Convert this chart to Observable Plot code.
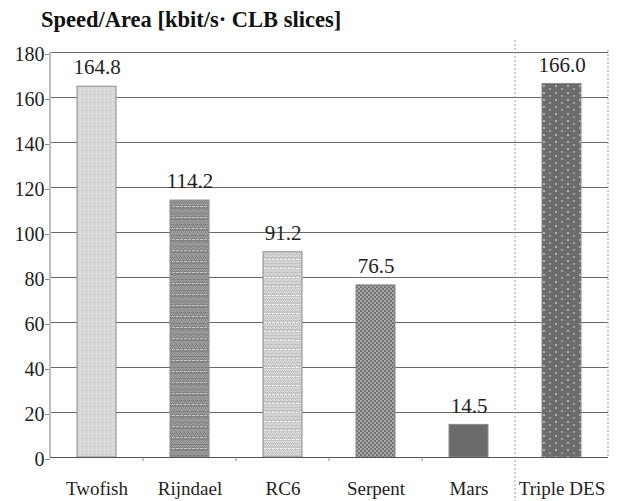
<!DOCTYPE html>
<html>
<head>
<meta charset="utf-8">
<script src="https://cdn.jsdelivr.net/npm/d3@7"></script>
<script src="https://cdn.jsdelivr.net/npm/@observablehq/plot@0.6"></script>
<style>
  html, body { margin: 0; padding: 0; background: #fff; }
  #chart svg { display: block; }
  #chart svg text { font-family: "Liberation Serif", "Times New Roman", Times, serif !important; }
</style>
</head>
<body>
<div id="chart"></div>
<script>
const title = "Speed/Area [kbit/s\u00b7 CLB slices]";
const categories = ["Twofish", "Rijndael", "RC6", "Serpent", "Mars", "Triple DES"];
const values = [164.8, 114.2, 91.2, 76.5, 14.5, 166.0];
const yTicks = [0, 20, 40, 60, 80, 100, 120, 140, 160, 180];

const patternIds = ["p-twofish", "p-rijndael", "p-rc6", "p-serpent", "p-mars", "p-tdes"];
const data = categories.map((name, i) => ({name, value: values[i], pat: patternIds[i]}));

const W = 636, H = 501;
const font = "Liberation Serif";

const plot = Plot.plot({
  width: W,
  height: H,
  marginLeft: 50,
  marginRight: 28,
  marginTop: 52,
  marginBottom: 44,
  style: {fontFamily: font, fontSize: "18px", color: "#222", background: "#fff"},
  x: {domain: categories, paddingInner: 0.58, paddingOuter: 0.29, label: null},
  y: {domain: [0, 180], label: null},
  marks: [
    Plot.gridY(yTicks, {stroke: "#6a6a6a", strokeOpacity: 1, strokeWidth: 1}),
    ...data.map(d => Plot.barY([d], {x: "name", y: "value", fill: `url(#${d.pat})`, stroke: "#8a8a8a", strokeWidth: 1})),
    Plot.ruleY([0], {stroke: "#555", strokeWidth: 1.2}),
    Plot.text(data, {x: "name", y: "value", text: d => d.value.toFixed(1), dy: -19, fontSize: 21, fill: "#222"}),
    Plot.axisY({ticks: yTicks, tickSize: 5, tickPadding: 1, fontSize: 20, dy: 2, stroke: "#888", fill: "#222"}),
    Plot.axisX({tickSize: 0, tickPadding: 24, fontSize: 19, fill: "#222"})
  ]
});

const svg = d3.select(plot);
const defs = svg.insert("defs", ":first-child");

function pat(id, w, h, base, rects) {
  const p = defs.append("pattern").attr("id", id).attr("patternUnits", "userSpaceOnUse")
    .attr("width", w).attr("height", h);
  p.append("rect").attr("width", w).attr("height", h).attr("fill", base);
  rects.forEach(([x, y, rw, rh, c]) => p.append("rect").attr("x", x).attr("y", y).attr("width", rw).attr("height", rh).attr("fill", c));
}
pat("p-twofish", 4, 4, "#d8d8d8", [[0, 0, 1, 1, "#e6e6e6"], [2, 2, 1, 1, "#cdcdcd"]]);
pat("p-rijndael", 4, 11, "#858585", [
  [0, 0, 1, 1, "#a6a6a6"], [2, 0, 1, 1, "#a6a6a6"], [1, 1, 1, 1, "#a6a6a6"], [3, 1, 1, 1, "#a6a6a6"],
  [0, 2, 1, 1, "#a6a6a6"], [2, 2, 1, 1, "#a6a6a6"], [1, 3, 1, 1, "#a6a6a6"], [3, 3, 1, 1, "#a6a6a6"],
  [0, 5, 1, 1, "#a6a6a6"], [2, 5, 1, 1, "#a6a6a6"], [1, 6, 1, 1, "#a6a6a6"], [3, 6, 1, 1, "#a6a6a6"],
  [0, 8, 3, 1, "#c4c4c4"]]);
pat("p-rc6", 4, 9, "#c6c6c6", [
  [0, 0, 1, 1, "#e0e0e0"], [2, 0, 1, 1, "#e0e0e0"], [1, 1, 1, 1, "#e0e0e0"], [3, 1, 1, 1, "#e0e0e0"],
  [0, 3, 1, 1, "#e0e0e0"], [2, 3, 1, 1, "#e0e0e0"], [1, 4, 1, 1, "#e0e0e0"], [3, 4, 1, 1, "#e0e0e0"],
  [0, 7, 3, 1, "#f2f2f2"]]);
pat("p-serpent", 4, 4, "#737373", [[0, 0, 2, 2, "#a6a6a6"], [2, 2, 2, 2, "#a6a6a6"]]);
pat("p-mars", 4, 4, "#6b6b6b", []);
pat("p-tdes", 12, 7, "#6c6c6c", [[3, 1, 2, 2, "#b0b0b0"], [9, 4, 2, 2, "#a0a0a0"]]);

const xs = plot.scale("x");
const ys = plot.scale("y");
const step = xs.step, bw = xs.bandwidth;
const y0 = ys.apply(0), yTop = ys.apply(180);
const left = xs.range[0], right = xs.range[1];
const lines = svg.append("g");
lines.append("line").attr("x1", left).attr("x2", left).attr("y1", yTop).attr("y2", y0)
  .attr("stroke", "#bdbdbd").attr("stroke-width", 2);
const sep = xs.apply("Triple DES") - (step - bw) / 2;
lines.append("line").attr("x1", sep).attr("x2", sep).attr("y1", yTop - 12).attr("y2", H)
  .attr("stroke", "#9a9a9a").attr("stroke-dasharray", "2,2");
lines.append("line").attr("x1", right).attr("x2", right).attr("y1", yTop - 2).attr("y2", y0)
  .attr("stroke", "#9a9a9a").attr("stroke-dasharray", "2,2");
categories.slice(1, 5).forEach(c => {
  const x = xs.apply(c) - (step - bw) / 2;
  lines.append("line").attr("x1", x).attr("x2", x).attr("y1", y0).attr("y2", y0 + 4).attr("stroke", "#888");
});
svg.append("text").attr("x", 41).attr("y", 27).attr("text-anchor", "start")
  .attr("font-weight", "bold").attr("font-size", 22.5).attr("fill", "#111").text(title);

document.getElementById("chart").appendChild(plot);
</script>
</body>
</html>
